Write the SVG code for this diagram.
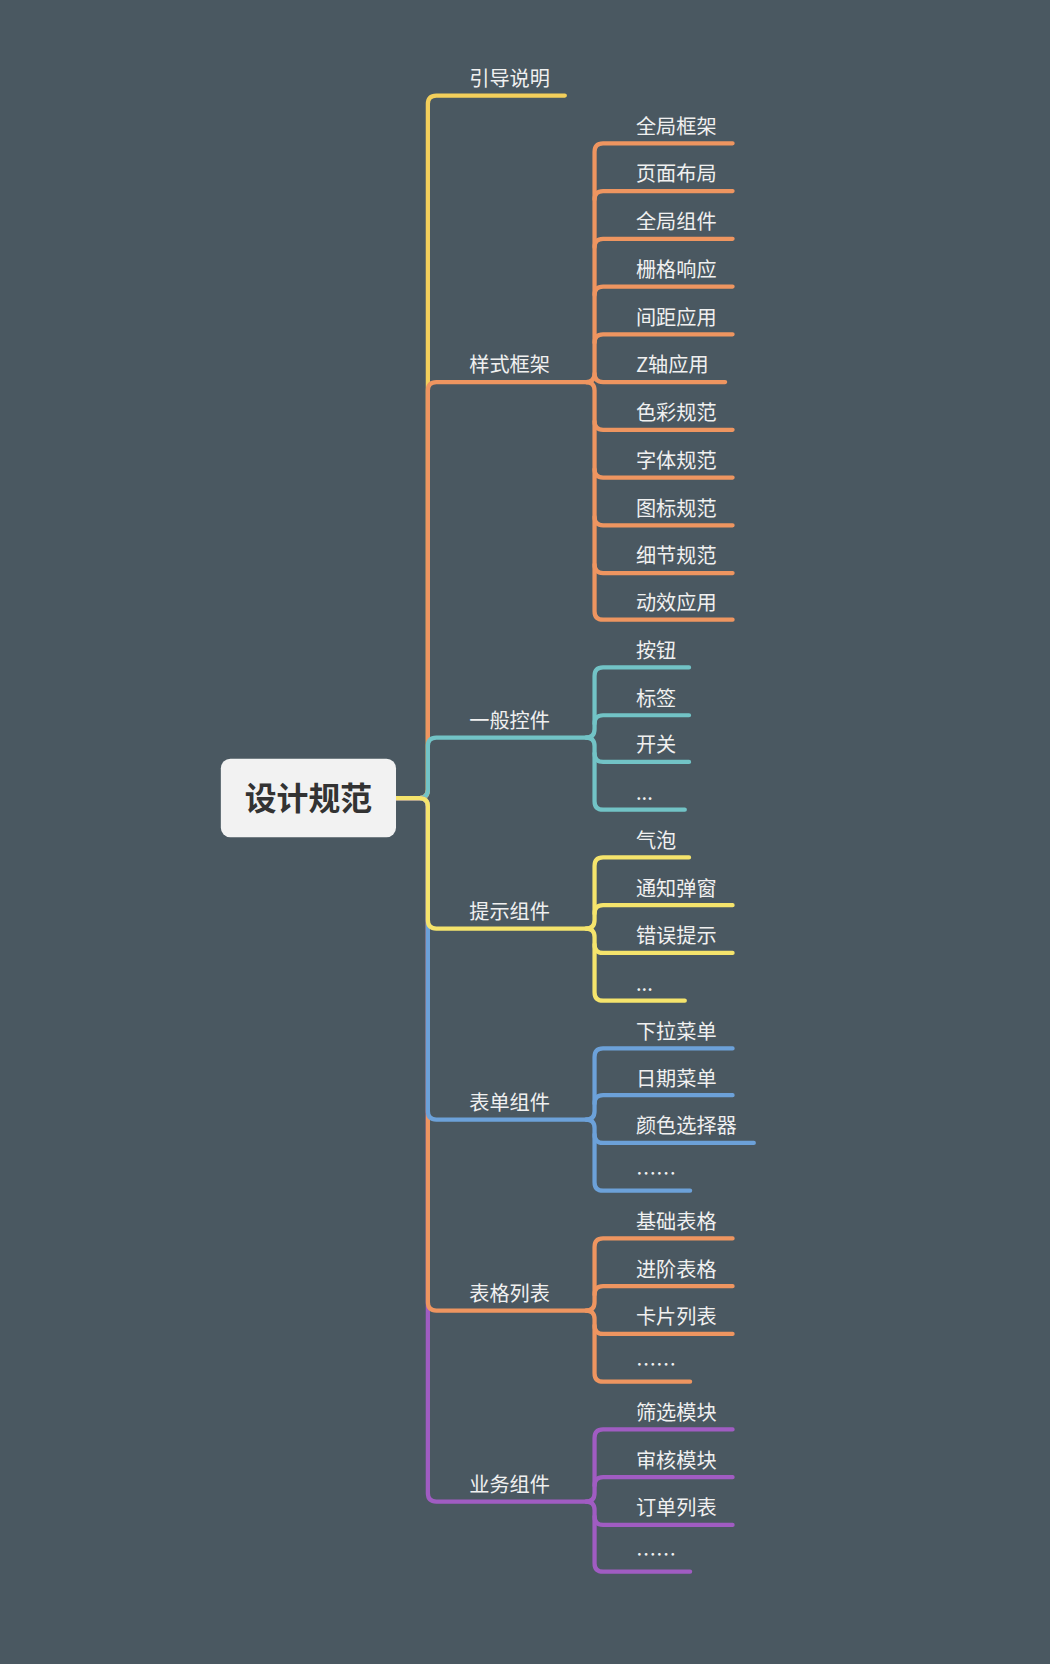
<svg xmlns="http://www.w3.org/2000/svg" width="1050" height="1664" viewBox="0 0 1050 1664">
<style>
.c{fill:none;stroke-width:4;stroke-linecap:round;stroke-linejoin:round}
.t{font-family:"Noto Sans CJK SC","Liberation Sans",sans-serif;font-size:19px;fill:#f0f0f0}
.y1{stroke:#f3cf5b}.o{stroke:#ee9560}.tl{stroke:#72c3c6}.y2{stroke:#f5e46c}.b{stroke:#6ca1d9}.p{stroke:#a05cc2}
</style>
<rect width="1050" height="1664" fill="#4a5861"/>
<g transform="scale(1.0617,1.0612)">
<g id="connectors">
<path class="c y1" d="M373 752 H395 Q403 752 403 744 V98 Q403 90 411 90 H532"/>
<path class="c o" d="M373 752 H395 Q403 752 403 744 V368 Q403 360 411 360 H557"/>
<path class="c tl" d="M373 752 H395 Q403 752 403 744 V703 Q403 695 411 695 H557"/>
<path class="c p" d="M373 752 H395 Q403 752 403 760 V1407 Q403 1415 411 1415 H557"/>
<path class="c o" d="M373 752 H395 Q403 752 403 760 V1227 Q403 1235 411 1235 H557"/>
<path class="c b" d="M373 752 H395 Q403 752 403 760 V1047 Q403 1055 411 1055 H557"/>
<path class="c y2" d="M373 752 H395 Q403 752 403 760 V867 Q403 875 411 875 H557"/>
<g class="o">
<path class="c" d="M552 360 Q560 360 560 352 V143 Q560 135 568 135 H690"/>
<path class="c" d="M560 188 Q560 180 568 180 H690"/>
<path class="c" d="M560 233 Q560 225 568 225 H690"/>
<path class="c" d="M560 278 Q560 270 568 270 H690"/>
<path class="c" d="M560 323 Q560 315 568 315 H690"/>
<path class="c" d="M560 352 Q560 360 568 360 H683"/>
<path class="c" d="M552 360 Q560 360 560 368 V576 Q560 584 568 584 H690"/>
<path class="c" d="M560 397 Q560 405 568 405 H690"/>
<path class="c" d="M560 442 Q560 450 568 450 H690"/>
<path class="c" d="M560 487 Q560 495 568 495 H690"/>
<path class="c" d="M560 532 Q560 540 568 540 H690"/>
</g>
<g class="tl">
<path class="c" d="M552 695 Q560 695 560 687 V637 Q560 629 568 629 H649"/>
<path class="c" d="M560 682 Q560 674 568 674 H649"/>
<path class="c" d="M552 695 Q560 695 560 703 V755 Q560 763 568 763 H645"/>
<path class="c" d="M560 710 Q560 718 568 718 H649"/>
</g>
<g class="y2">
<path class="c" d="M552 875 Q560 875 560 867 V816 Q560 808 568 808 H649"/>
<path class="c" d="M560 861 Q560 853 568 853 H690"/>
<path class="c" d="M552 875 Q560 875 560 883 V935 Q560 943 568 943 H645"/>
<path class="c" d="M560 890 Q560 898 568 898 H690"/>
</g>
<g class="b">
<path class="c" d="M552 1055 Q560 1055 560 1047 V996 Q560 988 568 988 H690"/>
<path class="c" d="M560 1040 Q560 1032 568 1032 H690"/>
<path class="c" d="M552 1055 Q560 1055 560 1063 V1114 Q560 1122 568 1122 H650"/>
<path class="c" d="M560 1069 Q560 1077 568 1077 H710"/>
</g>
<g class="o">
<path class="c" d="M552 1235 Q560 1235 560 1227 V1175 Q560 1167 568 1167 H690"/>
<path class="c" d="M560 1220 Q560 1212 568 1212 H690"/>
<path class="c" d="M552 1235 Q560 1235 560 1243 V1294 Q560 1302 568 1302 H650"/>
<path class="c" d="M560 1249 Q560 1257 568 1257 H690"/>
</g>
<g class="p">
<path class="c" d="M552 1415 Q560 1415 560 1407 V1355 Q560 1347 568 1347 H690"/>
<path class="c" d="M560 1400 Q560 1392 568 1392 H690"/>
<path class="c" d="M552 1415 Q560 1415 560 1423 V1473 Q560 1481 568 1481 H650"/>
<path class="c" d="M560 1429 Q560 1437 568 1437 H690"/>
</g>
</g>
<g id="root"><rect x="208" y="715" width="165" height="74" rx="9" fill="#f2f2f2"/><text x="290.5" y="763" text-anchor="middle" font-family="Noto Sans CJK SC,sans-serif" font-size="30" font-weight="bold" fill="#333">设计规范</text></g>
<g id="b1"><text class="t" x="442" y="81">引导说明</text></g>
<g id="b2"><text class="t" x="442" y="351">样式框架</text></g>
<g id="b3"><text class="t" x="442" y="686">一般控件</text></g>
<g id="b4"><text class="t" x="442" y="866">提示组件</text></g>
<g id="b5"><text class="t" x="442" y="1046">表单组件</text></g>
<g id="b6"><text class="t" x="442" y="1226">表格列表</text></g>
<g id="b7"><text class="t" x="442" y="1406">业务组件</text></g>
<g id="leaves" class="t">
<text class="t" x="599" y="126">全局框架</text>
<text class="t" x="599" y="171">页面布局</text>
<text class="t" x="599" y="216">全局组件</text>
<text class="t" x="599" y="261">栅格响应</text>
<text class="t" x="599" y="306">间距应用</text>
<text class="t" x="599" y="351">Z轴应用</text>
<text class="t" x="599" y="396">色彩规范</text>
<text class="t" x="599" y="441">字体规范</text>
<text class="t" x="599" y="486">图标规范</text>
<text class="t" x="599" y="531">细节规范</text>
<text class="t" x="599" y="575">动效应用</text>
<text class="t" x="599" y="620">按钮</text>
<text class="t" x="599" y="665">标签</text>
<text class="t" x="599" y="709">开关</text>
<text class="t" x="599" y="754">...</text>
<text class="t" x="599" y="799">气泡</text>
<text class="t" x="599" y="844">通知弹窗</text>
<text class="t" x="599" y="889">错误提示</text>
<text class="t" x="599" y="934">...</text>
<text class="t" x="599" y="979">下拉菜单</text>
<text class="t" x="599" y="1023">日期菜单</text>
<text class="t" x="599" y="1068">颜色选择器</text>
<text class="t" x="599" y="1113">……</text>
<text class="t" x="599" y="1158">基础表格</text>
<text class="t" x="599" y="1203">进阶表格</text>
<text class="t" x="599" y="1248">卡片列表</text>
<text class="t" x="599" y="1293">……</text>
<text class="t" x="599" y="1338">筛选模块</text>
<text class="t" x="599" y="1383">审核模块</text>
<text class="t" x="599" y="1428">订单列表</text>
<text class="t" x="599" y="1472">……</text>
</g>
</g>
</svg>
